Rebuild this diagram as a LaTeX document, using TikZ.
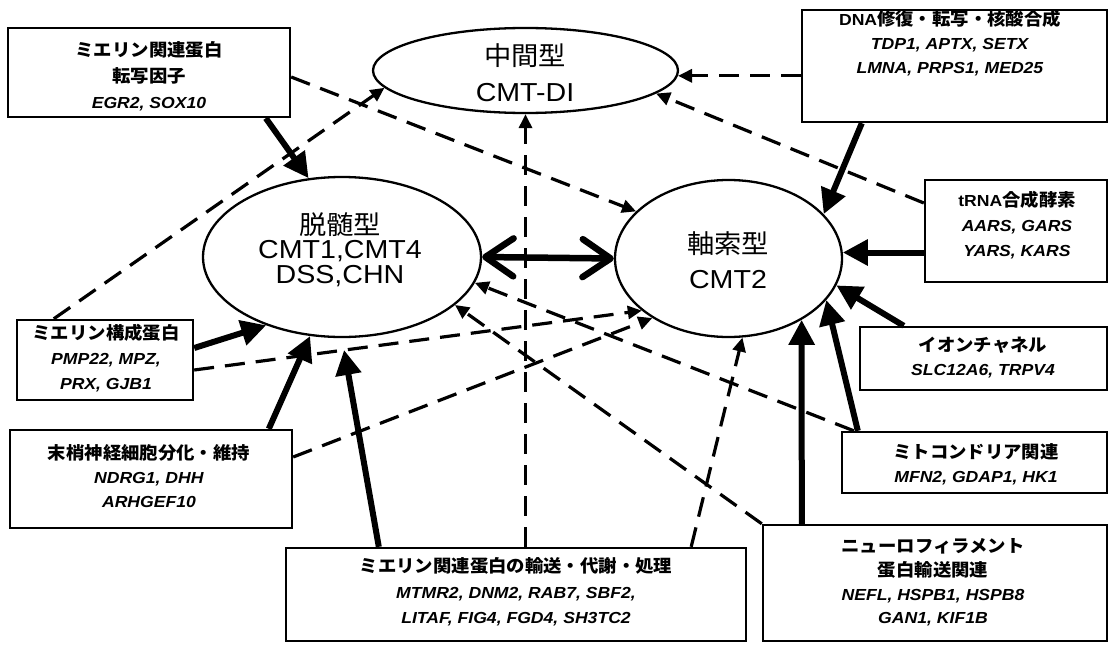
\documentclass[tikz,border=0pt]{standalone}
\usepackage{fontspec}
\setmainfont{Liberation Sans}[FakeStretch=1.1]
\newfontfamily\jp{Noto Sans CJK JP}[FakeStretch=1.05]
\usetikzlibrary{arrows.meta,shapes.geometric,calc}
\newcommand\J[1]{{\jp\fontsize{17.5}{24}\selectfont #1}}
\newcommand\JB[1]{{\jp\fontsize{26}{30}\selectfont #1}}
\begin{document}
\begin{tikzpicture}[x=1pt,y=-1pt,
  box/.style={draw, rectangle, line width=2.4pt, inner sep=0pt},
  ell/.style={draw, ellipse, line width=2.3pt, inner sep=0pt},
  txt/.style={align=center, inner sep=0pt, font={\fontsize{16}{#1}\selectfont\bfseries\lineskiplimit=-50pt}},
  big/.style={align=center, inner sep=0pt, font={\fontsize{26}{#1}\selectfont\lineskiplimit=-50pt}},
  solidarrow/.style={line width=6pt, -{Triangle[length=25pt,width=25pt]}},
  dasharrow/.style={line width=3.2pt, dash pattern=on 20pt off 11pt, -{Triangle[length=14pt,width=13pt]}},
  dbl/.style={line width=6.5pt, {Straight Barb[length=28pt,width=38pt,round]}-{Straight Barb[length=28pt,width=38pt,round]}}
]
\useasboundingbox (0,0) rectangle (1109,645);
% ellipses
\node[ell, minimum width=305pt, minimum height=85pt] (M) at (525.5,70.5) {};
\node[ell, minimum width=278pt, minimum height=160pt] (L) at (342,257) {};
\node[ell, minimum width=227pt, minimum height=157pt] (R) at (728.5,258.5) {};
\node[big=36] (M-t) at (525,73) {\JB{中間型}\\CMT-DI};
\node[big=24.5] (L-t) at (340,249.5) {\JB{脱髄型}\\CMT1,CMT4\\DSS,CHN};
\node[big=35] (R-t) at (728,260.5) {\JB{軸索型}\\CMT2};
% boxes
\node[box, minimum width=282pt, minimum height=89pt] (tf) at (149,72.5) {};
\node[box, minimum width=305pt, minimum height=112pt] (dna) at (954.5,66) {};
\node[box, minimum width=182pt, minimum height=102pt] (trna) at (1016,231) {};
\node[box, minimum width=247pt, minimum height=63pt] (ion) at (983.5,358.5) {};
\node[box, minimum width=265pt, minimum height=61pt] (mito) at (974.5,462.5) {};
\node[box, minimum width=344pt, minimum height=116pt] (nf) at (935,583) {};
\node[box, minimum width=176pt, minimum height=80pt] (mc) at (105,360) {};
\node[box, minimum width=282pt, minimum height=98pt] (pn) at (151,479) {};
\node[box, minimum width=460pt, minimum height=93pt] (tr) at (516,594.5) {};
% box texts
\node[txt=26] (tf-t) at (149,76.5) {\J{ミエリン関連蛋白}\\\J{転写因子}\\\textit{EGR2, SOX10}};
\node[txt=24] (dna-t) at (950,43) {DNA\J{修復・転写・核酸合成}\\\textit{TDP1, APTX, SETX}\\\textit{LMNA, PRPS1, MED25}};
\node[txt=25] (trna-t) at (1017,225) {tRNA\J{合成酵素}\\\textit{AARS, GARS}\\\textit{YARS, KARS}};
\node[txt=24] (ion-t) at (983,358) {\J{イオンチャネル}\\\textit{SLC12A6, TRPV4}};
\node[txt=23.5] (mito-t) at (976,464.5) {\J{ミトコンドリア関連}\\\textit{MFN2, GDAP1, HK1}};
\node[txt=23.7] (nf-t) at (933,582.5) {\J{ニューロフィラメント}\\\J{蛋白輸送関連}\\\textit{NEFL, HSPB1, HSPB8}\\\textit{GAN1, KIF1B}};
\node[txt=25] (mc-t) at (106,358) {\J{ミエリン構成蛋白}\\\textit{PMP22, MPZ,}\\\textit{PRX, GJB1}};
\node[txt=24] (pn-t) at (149,476) {\J{末梢神経細胞分化・維持}\\\textit{NDRG1, DHH}\\\textit{ARHGEF10}};
\node[txt=25.5] (tr-t) at (516,592) {\J{ミエリン関連蛋白の輸送・代謝・処理}\\\textit{MTMR2, DNM2, RAB7, SBF2,}\\\textit{LITAF, FIG4, FGD4, SH3TC2}};
% solid arrows
\draw[solidarrow] ([xshift=259pt]tf.south west) -- (L.113);
\draw[solidarrow] ([xshift=61pt]dna.south west) -- (R.25);
\draw[solidarrow] (R.3 -| trna.west) -- (R.3);
\draw[solidarrow] ([xshift=45pt]ion.north west) -- (R.-14);
\draw[solidarrow] ([xshift=17pt]mito.north west) -- (R.-23);
\draw[solidarrow] ([xshift=40pt]nf.north west) -- (R.-40);
\draw[solidarrow] ([yshift=12pt]mc.east) -- (L.222);
\draw[solidarrow] ([xshift=260pt]pn.north west) -- (L.-112);
\draw[solidarrow, shorten >=12pt] ([xshift=94pt]tr.north west) -- (L.-90);
\draw[dbl] (L.0) -- (R.180);
% dashed arrows
\draw[dasharrow] ([yshift=-4.5pt]tf.east) -- (R.153);
\draw[dasharrow] ([xshift=38pt]mc.north west) -- (M.187);
\draw[dasharrow] (M.south |- tr.north) -- (M.south);
\draw[dasharrow] (M.-2 -| dna.west) -- (M.-2);
\draw[dasharrow] ([yshift=28pt]trna.west) -- (M.-10);
\draw[dasharrow] ([yshift=-10pt]mc.east) -- (R.211);
\draw[dasharrow] ([yshift=22pt]pn.east) -- (R.218);
\draw[dasharrow] ([xshift=13pt]mito.north west) -- (L.-11);
\draw[dasharrow] (nf.north west) -- (L.-23.5);
\draw[dasharrow] ([xshift=-56pt]tr.north east) -- (R.-80);
\end{tikzpicture}
\end{document}
